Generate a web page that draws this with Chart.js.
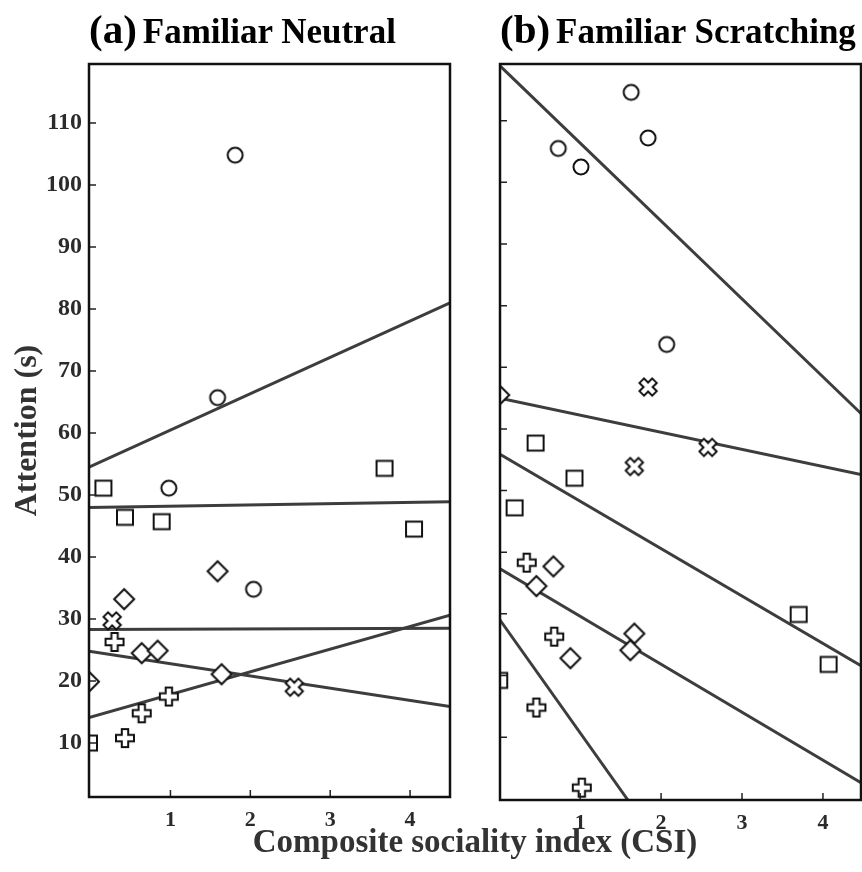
<!DOCTYPE html>
<html>
<head>
<meta charset="utf-8">
<script src="https://cdn.jsdelivr.net/npm/chart.js@4/dist/chart.umd.min.js"></script>
<style>
  body { margin: 0; background: #fff; }
  #wrap { position: relative; width: 862px; height: 872px; overflow: hidden; }
  canvas { position: absolute; top: 0; }
  .head { position: absolute; top: 9px; display: flex; align-items: baseline; white-space: nowrap;
          font-family: "Liberation Serif", "Times New Roman", serif; font-weight: bold; color: #000; }
  .head .tag { font-size: 41px; line-height: 1; margin-right: 6px; }
  .head .name { font-size: 35px; line-height: 1; }
  #xtitle { position: absolute; left: 475px; top: 825px; transform: translateX(-50%); white-space: nowrap;
            font-family: "Liberation Serif", "Times New Roman", serif; font-weight: bold; font-size: 33px;
            line-height: 1; color: #333; }
</style>
</head>
<body>
<div id="wrap">
  <canvas id="neutralChart" width="470" height="872" style="left:0"></canvas>
  <!-- wider than the room left, the spare part is cut off by #wrap -->
  <canvas id="scratchChart" width="412" height="872" style="left:470px"></canvas>
  <div class="head" style="left:89px"><span class="tag">(a)</span><span class="name">Familiar Neutral</span></div>
  <div class="head" style="left:500px"><span class="tag">(b)</span><span class="name">Familiar Scratching</span></div>
  <div id="xtitle">Composite sociality index (CSI)</div>
</div>
<script>
// tick labels
const xTicks = [1, 2, 3, 4];
const yTicks = [10, 20, 30, 40, 50, 60, 70, 80, 90, 100, 110];

// (a) Familiar Neutral: [CSI, attention]
const neutralCircle = [[1.81, 104.8], [1.59, 65.7], [0.98, 51.1], [2.04, 34.8]];
const neutralSquare = [[0.16, 51.1], [0.43, 46.4], [0.89, 45.7], [3.68, 54.3], [4.05, 44.5], [-0.02, 10.0]];
const neutralDiamond = [[0.42, 33.2], [1.59, 37.7], [0.64, 24.5], [0.84, 24.9], [1.64, 21.1], [-0.02, 19.9]];
const neutralCross = [[0.27, 29.7], [2.55, 19.0]];
const neutralPlus = [[0.30, 26.3], [0.64, 14.8], [0.43, 10.8], [0.98, 17.5]];
// fitted lines, end points
const neutralLineCircle = [[-0.02, 54.5], [4.5, 81.0]];
const neutralLineSquare = [[-0.02, 48.0], [4.5, 48.9]];
const neutralLineDiamond = [[-0.02, 28.3], [4.5, 28.5]];
const neutralLineCross = [[-0.02, 24.8], [4.5, 15.9]];
const neutralLinePlus = [[-0.02, 14.1], [4.5, 30.6]];

// (b) Familiar Scratching
const scratchCircle = [[1.63, 114.6], [1.84, 107.2], [0.73, 105.5], [1.01, 102.5], [2.07, 73.7]];
const scratchSquare = [[0.45, 57.7], [0.93, 52.0], [0.19, 47.2], [3.70, 29.9], [4.07, 21.8], [0.0, 19.2]];
const scratchDiamond = [[0.0, 65.5], [0.67, 37.7], [0.46, 34.5], [1.67, 26.8], [1.62, 24.1], [0.88, 22.8]];
const scratchCross = [[1.84, 66.8], [2.58, 57.0], [1.67, 53.9]];
const scratchPlus = [[0.34, 38.3], [0.68, 26.3], [0.46, 14.8], [1.02, 1.8]];
const scratchLineCircle = [[0.01, 118.9], [4.47, 62.5]];
const scratchLineCross = [[0.01, 65.0], [4.47, 52.6]];
const scratchLineSquare = [[0.01, 55.9], [4.47, 21.6]];
const scratchLineDiamond = [[0.01, 37.3], [4.47, 2.6]];
const scratchLinePlus = [[0.01, 29.0], [1.59, -0.2]];

const serif = '"Liberation Serif", "Times New Roman", serif';

function marker(kind) {
  const c = document.createElement('canvas');
  c.width = 26; c.height = 26;
  const g = c.getContext('2d');
  g.translate(13, 13);
  g.lineWidth = 2;
  g.strokeStyle = '#111';
  g.fillStyle = '#fff';
  g.beginPath();
  if (kind === 'circle') {
    g.arc(0, 0, 7.5, 0, Math.PI * 2);
  } else if (kind === 'square') {
    g.rect(-8, -7.5, 16, 15);
  } else if (kind === 'diamond') {
    g.moveTo(0, -10); g.lineTo(10, 0); g.lineTo(0, 10); g.lineTo(-10, 0); g.closePath();
  } else {
    if (kind === 'cross') g.rotate(Math.PI / 4);
    const a = 3.2, b = 9;
    g.moveTo(-a, -b); g.lineTo(a, -b); g.lineTo(a, -a); g.lineTo(b, -a); g.lineTo(b, a);
    g.lineTo(a, a); g.lineTo(a, b); g.lineTo(-a, b); g.lineTo(-a, a); g.lineTo(-b, a);
    g.lineTo(-b, -a); g.lineTo(-a, -a); g.closePath();
  }
  g.fill();
  g.stroke();
  return c;
}

const markers = {
  circle: marker('circle'), square: marker('square'), diamond: marker('diamond'),
  cross: marker('cross'), plus: marker('plus')
};

function toXY(arr) { return arr.map(p => ({x: p[0], y: p[1]})); }

function pts(arr, kind) {
  return { data: toXY(arr), pointStyle: markers[kind], pointRadius: 10, clip: 0, order: 0 };
}

function fit(arr) {
  return { type: 'line', data: toXY(arr), borderColor: '#3d3d3d', borderWidth: 3,
           pointRadius: 0, fill: false, clip: 0, order: 1 };
}

// frame round the plot area plus inward tick marks
const frameAndTicks = {
  id: 'frameAndTicks',
  afterDatasetsDraw(chart) {
    const {ctx, chartArea: a, scales: {x, y}} = chart;
    ctx.save();
    ctx.strokeStyle = '#222';
    ctx.lineWidth = 1.5;
    ctx.beginPath();
    x.ticks.forEach(t => {
      const px = x.getPixelForValue(t.value);
      ctx.moveTo(px, a.bottom); ctx.lineTo(px, a.bottom - 7);
    });
    y.ticks.forEach(t => {
      const py = y.getPixelForValue(t.value);
      ctx.moveTo(a.left, py); ctx.lineTo(a.left + 7, py);
    });
    ctx.stroke();
    ctx.strokeStyle = '#111';
    ctx.lineWidth = 2.5;
    ctx.strokeRect(a.left, a.top, a.right - a.left, a.bottom - a.top);
    ctx.restore();
  }
};

function options(o) {
  return {
    responsive: false,
    animation: false,
    layout: { padding: { left: 0, top: 64, right: o.padRight, bottom: 0 } },
    plugins: { legend: { display: false }, tooltip: { enabled: false } },
    scales: {
      x: {
        type: 'linear', min: o.xMin, max: o.xMax,
        afterBuildTicks: s => { s.ticks = xTicks.map(v => ({value: v})); },
        afterFit: s => { s.height = o.xHeight; },
        grid: { display: false, drawTicks: false },
        border: { display: false },
        ticks: { padding: 10, color: '#2b2b2b', font: { family: serif, size: 22, weight: 'bold' } }
      },
      y: {
        type: 'linear', min: o.yMin, max: o.yMax,
        afterBuildTicks: s => { s.ticks = yTicks.map(v => ({value: v})); },
        afterFit: s => { s.width = o.yWidth; },
        grid: { display: false, drawTicks: false },
        border: { display: false },
        ticks: { display: o.yLabels, padding: 7, color: '#2b2b2b', font: { family: serif, size: 24, weight: 'bold' } },
        title: {
          display: o.yLabels, text: 'Attention (s)', color: '#333',
          font: { family: serif, size: 32, weight: 'bold' }, padding: { top: 9, bottom: 0 }
        }
      }
    }
  };
}

new Chart(document.getElementById('neutralChart'), {
  type: 'scatter',
  data: {
    datasets: [
      pts(neutralCircle, 'circle'),
      pts(neutralSquare, 'square'),
      pts(neutralDiamond, 'diamond'),
      pts(neutralCross, 'cross'),
      pts(neutralPlus, 'plus'),
      fit(neutralLineCircle),
      fit(neutralLineSquare),
      fit(neutralLineDiamond),
      fit(neutralLineCross),
      fit(neutralLinePlus)
    ]
  },
  options: options({ padRight: 20, xMin: -0.02, xMax: 4.5, yMin: 1.3, yMax: 119.5,
                     xHeight: 75, yWidth: 89, yLabels: true }),
  plugins: [frameAndTicks]
});

new Chart(document.getElementById('scratchChart'), {
  type: 'scatter',
  data: {
    datasets: [
      pts(scratchCircle, 'circle'),
      pts(scratchSquare, 'square'),
      pts(scratchDiamond, 'diamond'),
      pts(scratchCross, 'cross'),
      pts(scratchPlus, 'plus'),
      fit(scratchLineCircle),
      fit(scratchLineCross),
      fit(scratchLineSquare),
      fit(scratchLineDiamond),
      fit(scratchLinePlus)
    ]
  },
  options: options({ padRight: 21, xMin: 0.01, xMax: 4.47, yMin: -0.2, yMax: 119.2,
                     xHeight: 72, yWidth: 30, yLabels: false }),
  plugins: [frameAndTicks]
});
</script>
</body>
</html>
